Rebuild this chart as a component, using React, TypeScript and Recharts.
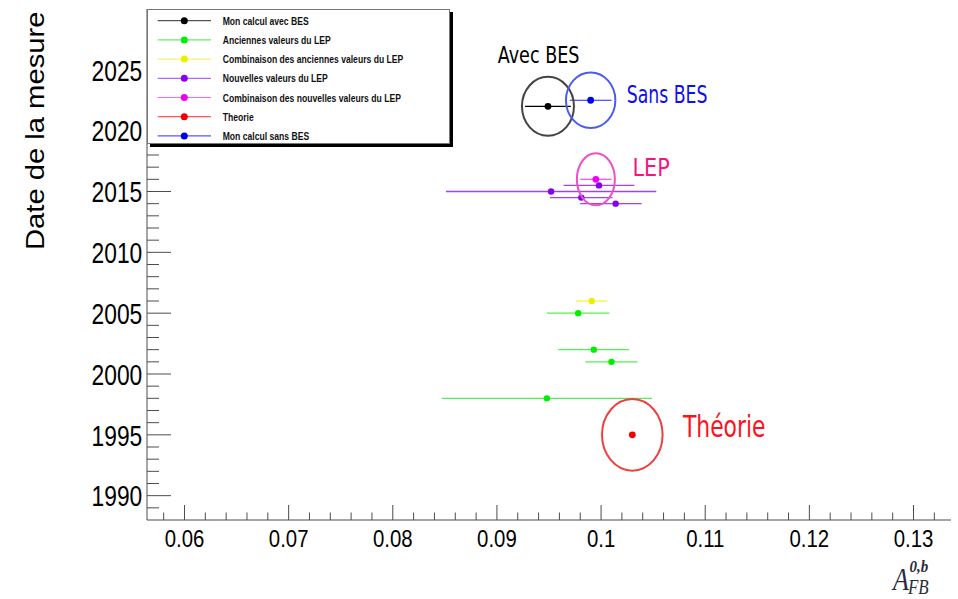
import { ErrorBar, Scatter, ScatterChart, XAxis, YAxis } from 'recharts';

// axis ranges and ticks
const X_DOMAIN = [0.0564, 0.1336];
const Y_DOMAIN = [1988, 2030];
const xMajor = [0.06, 0.07, 0.08, 0.09, 0.1, 0.11, 0.12, 0.13];
const yMajor = [1990, 1995, 2000, 2005, 2010, 2015, 2020, 2025];
const xTicks = Array.from({ length: 38 }, (_, i) => +(0.058 + i * 0.002).toFixed(3));
const yTicks = Array.from({ length: 41 }, (_, i) => 1989 + i);

// measurements: x = A_FB, y = year, ex = error on A_FB
const avecBes = [{ x: 0.0949, y: 2022, ex: 0.0022 }];
const sansBes = [{ x: 0.099, y: 2022.5, ex: 0.002 }];
const nouvellesCombi = [{ x: 0.0995, y: 2016, ex: 0.0015 }];
const nouvelles = [
  { x: 0.0998, y: 2015.5, ex: 0.0034 },
  { x: 0.0952, y: 2015, ex: 0.0101 },
  { x: 0.0981, y: 2014.5, ex: 0.003 },
  { x: 0.1014, y: 2014, ex: [0.0034, 0.0025] },
];
const anciennesCombi = [{ x: 0.0991, y: 2006, ex: 0.0015 }];
const anciennes = [
  { x: 0.0978, y: 2005, ex: 0.003 },
  { x: 0.0993, y: 2002, ex: 0.0034 },
  { x: 0.101, y: 2001, ex: 0.0025 },
  { x: 0.0948, y: 1998, ex: 0.0101 },
];
const theorie = [{ x: 0.103, y: 1995 }];

const legendNames = [
  'Mon calcul avec BES',
  'Anciennes valeurs du LEP',
  'Combinaison des anciennes valeurs du LEP',
  'Nouvelles valeurs du LEP',
  'Combinaison des nouvelles valeurs du LEP',
  'Theorie',
  'Mon calcul sans BES',
];
const legendDots = ['#000000', '#00ee00', '#eeee00', '#8800ee', '#ee00ee', '#ee0000', '#0000ee'];
const legendLines = ['#555555', '#66ee66', '#f5f566', '#b066ff', '#ff66ff', '#ff5555', '#5555ff'];

const FRAME = '#4d4d4d';
const SANS = "'Liberation Sans', Arial, Helvetica, sans-serif";
const LABEL_FONT = "'DejaVu Sans', Verdana, sans-serif";

function StretchText({ x, y, sy, children, ...rest }: any) {
  return (
    <g transform={`translate(${x},${y}) scale(1,${sy})`}>
      <text x={0} y={0} {...rest}>
        {children}
      </text>
    </g>
  );
}

const isMajor = (list: number[], v: number) => list.some((m) => Math.abs(m - v) < 1e-6);

function BottomTick({ x, y, payload }: any) {
  const major = isMajor(xMajor, payload.value);
  return (
    <g>
      <line x1={x} x2={x} y1={y} y2={y - (major ? 15 : 7.5)} stroke={FRAME} />
      {major && (
        <StretchText x={x} y={y + 27} sy={1.18} textAnchor="middle" fontSize={20.4} fontFamily={SANS} fill="#000">
          {String(payload.value)}
        </StretchText>
      )}
    </g>
  );
}

function TopTick({ x, y, payload }: any) {
  const major = isMajor(xMajor, payload.value);
  return <line x1={x} x2={x} y1={y} y2={y + (major ? 15 : 7.5)} stroke={FRAME} />;
}

function LeftTick({ x, y, payload }: any) {
  const major = isMajor(yMajor, payload.value);
  return (
    <g>
      <line x1={x} x2={x + (major ? 24 : 12)} y1={y} y2={y} stroke={FRAME} />
      {major && (
        <StretchText x={x - 4.7} y={y + 10.7} sy={1.3} textAnchor="end" fontSize={22.8} fontFamily={SANS} fill="#000">
          {String(payload.value)}
        </StretchText>
      )}
    </g>
  );
}

function RightTick({ x, y, payload }: any) {
  const major = isMajor(yMajor, payload.value);
  return <line x1={x} x2={x - (major ? 24 : 12)} y1={y} y2={y} stroke={FRAME} />;
}

const dotShape = (fill: string, r = 3.2) => (props: any) =>
  <circle cx={props.cx} cy={props.cy} r={r} fill={fill} />;

// point with a ring around it and a caption next to it
const ringShape = (opts: {
  fill: string;
  ring: string;
  rx: number;
  ry: number;
  text: string;
  color: string;
  dx: number;
  dy: number;
  fontSize: number;
  sy: number;
}) => (props: any) => (
  <g>
    <ellipse cx={props.cx} cy={props.cy} rx={opts.rx} ry={opts.ry} fill="none" stroke={opts.ring} strokeWidth={2} />
    <circle cx={props.cx} cy={props.cy} r={3.4} fill={opts.fill} />
    <StretchText
      x={props.cx + opts.dx}
      y={props.cy + opts.dy}
      sy={opts.sy}
      fontSize={opts.fontSize}
      fontFamily={LABEL_FONT}
      fill={opts.color}
    >
      {opts.text}
    </StretchText>
  </g>
);

function LegendBox() {
  return (
    <svg
      width={310}
      height={142}
      style={{ position: 'absolute', left: 147, top: 9, overflow: 'visible' }}
    >
      <rect x={3} y={3} width={303} height={135} fill="#000" />
      <rect x={0.5} y={0.5} width={302} height={134} fill="#fff" stroke="#777" />
      {legendNames.map((name, i) => {
        const cy = 11.7 + i * 19.2;
        return (
          <g key={name}>
            <line x1={10.7} x2={64} y1={cy} y2={cy} stroke={legendLines[i]} strokeWidth={1.2} />
            <circle cx={37.3} cy={cy} r={3.5} fill={legendDots[i]} />
            <StretchText x={75.7} y={cy + 4.1} sy={1.3} fontSize={8.6} fontWeight="bold" fontFamily={SANS} fill="#111">
              {name}
            </StretchText>
          </g>
        );
      })}
    </svg>
  );
}

export default function App() {
  return (
    <div style={{ position: 'absolute', left: 0, top: 0, width: 958, height: 599, background: '#fff' }}>
      <ScatterChart width={958} height={599} margin={{ top: 9, right: 7, bottom: 0, left: 0 }}>
        <XAxis
          xAxisId="b"
          type="number"
          dataKey="x"
          domain={X_DOMAIN}
          allowDataOverflow
          ticks={xTicks}
          interval={0}
          height={79}
          tickSize={0}
          tickMargin={0}
          tickLine={false}
          axisLine={{ stroke: FRAME }}
          tick={(p: any) => <BottomTick {...p} />}
        />
        <XAxis
          xAxisId="t"
          orientation="top"
          type="number"
          dataKey="x"
          domain={X_DOMAIN}
          allowDataOverflow
          ticks={xTicks}
          interval={0}
          height={0}
          tickSize={0}
          tickMargin={0}
          tickLine={false}
          axisLine={{ stroke: FRAME }}
          tick={(p: any) => <TopTick {...p} />}
        />
        <YAxis
          yAxisId="l"
          type="number"
          dataKey="y"
          domain={Y_DOMAIN}
          allowDataOverflow
          ticks={yTicks}
          interval={0}
          width={147}
          tickSize={0}
          tickMargin={0}
          tickLine={false}
          axisLine={{ stroke: FRAME }}
          tick={(p: any) => <LeftTick {...p} />}
        />
        <YAxis
          yAxisId="r"
          orientation="right"
          type="number"
          dataKey="y"
          domain={Y_DOMAIN}
          allowDataOverflow
          ticks={yTicks}
          interval={0}
          width={0}
          tickSize={0}
          tickMargin={0}
          tickLine={false}
          axisLine={{ stroke: FRAME }}
          tick={(p: any) => <RightTick {...p} />}
        />

        <Scatter data={anciennes} xAxisId="b" yAxisId="l" shape={dotShape('#00ee00')} isAnimationActive={false}>
          <ErrorBar dataKey="ex" direction="x" width={0} stroke="#55ee55" strokeWidth={1.3} isAnimationActive={false} />
        </Scatter>
        <Scatter data={anciennesCombi} xAxisId="b" yAxisId="l" shape={dotShape('#eeee00')} isAnimationActive={false}>
          <ErrorBar dataKey="ex" direction="x" width={0} stroke="#f5f54a" strokeWidth={1.3} isAnimationActive={false} />
        </Scatter>
        <Scatter data={nouvelles} xAxisId="b" yAxisId="l" shape={dotShape('#8800ee')} isAnimationActive={false}>
          <ErrorBar dataKey="ex" direction="x" width={0} stroke="#a040ff" strokeWidth={1.3} isAnimationActive={false} />
        </Scatter>
        <Scatter
          data={nouvellesCombi}
          xAxisId="b"
          yAxisId="l"
          isAnimationActive={false}
          shape={ringShape({
            fill: '#ee00ee', ring: '#ee4fc8', rx: 19, ry: 26, text: 'LEP', color: '#f5157f',
            dx: 36.6, dy: -3, fontSize: 20.8, sy: 1.23,
          })}
        >
          <ErrorBar dataKey="ex" direction="x" width={0} stroke="#ff55ff" strokeWidth={1.3} isAnimationActive={false} />
        </Scatter>
        <Scatter
          data={avecBes}
          xAxisId="b"
          yAxisId="l"
          isAnimationActive={false}
          shape={ringShape({
            fill: '#000', ring: '#444', rx: 26, ry: 29.5, text: 'Avec BES', color: '#000',
            dx: -50.3, dy: -43.7, fontSize: 17.6, sy: 1.35,
          })}
        >
          <ErrorBar dataKey="ex" direction="x" width={0} stroke="#000" strokeWidth={1.2} isAnimationActive={false} />
        </Scatter>
        <Scatter
          data={sansBes}
          xAxisId="b"
          yAxisId="l"
          isAnimationActive={false}
          shape={ringShape({
            fill: '#0000ee', ring: '#4a5cf0', rx: 24.7, ry: 27.8, text: 'Sans BES', color: '#1010ee',
            dx: 36, dy: 3, fontSize: 17.3, sy: 1.42,
          })}
        >
          <ErrorBar dataKey="ex" direction="x" width={0} stroke="#2222ff" strokeWidth={1.2} isAnimationActive={false} />
        </Scatter>
        <Scatter
          data={theorie}
          xAxisId="b"
          yAxisId="l"
          isAnimationActive={false}
          shape={ringShape({
            fill: '#ee0000', ring: '#ee4040', rx: 30.3, ry: 35.8, text: 'Théorie', color: '#ff1020',
            dx: 50.6, dy: 2.3, fontSize: 21.9, sy: 1.36,
          })}
        />

        {/* axis titles */}
        <g transform="translate(43.5,130.8) scale(1,1.14) rotate(-90)">
          <text x={0} y={0} textAnchor="middle" fontSize={25.6} fontFamily={SANS} fill="#000">
            Date de la mesure
          </text>
        </g>
        <g transform="translate(893,590) scale(1,1.18)" fontFamily="'Liberation Serif', 'Times New Roman', serif" fontStyle="italic" fill="#2b2b3a">
          <text x={0} y={0} fontSize={26}>A</text>
          <text x={16.5} y={-15.5} fontSize={15} fontWeight="bold">0,b</text>
          <text x={15} y={3.3} fontSize={17}>FB</text>
        </g>
      </ScatterChart>
      <LegendBox />
    </div>
  );
}
